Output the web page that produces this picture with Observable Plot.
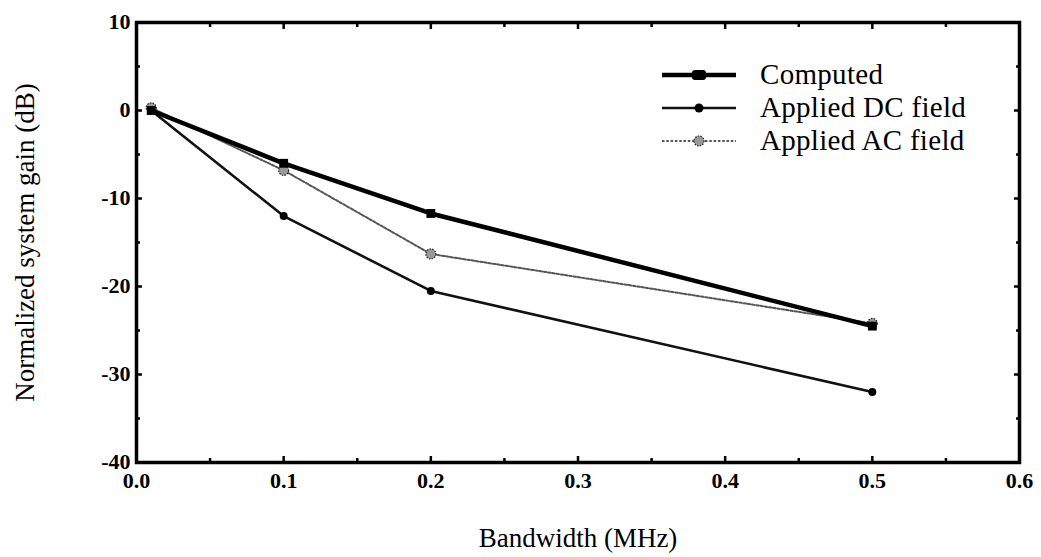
<!DOCTYPE html>
<html>
<head>
<meta charset="utf-8">
<script src="https://cdn.jsdelivr.net/npm/d3@7"></script>
<script src="https://cdn.jsdelivr.net/npm/@observablehq/plot@0.6"></script>
<style>
  html, body { margin: 0; padding: 0; background: #fff; }
  #wrap { position: relative; width: 1041px; height: 557px; font-family: "Liberation Serif", "DejaVu Serif", serif; }
  #legend { position: absolute; left: 662px; top: 58px; font-size: 29px; color: #000; letter-spacing: 0.3px; }
  #legend .row { display: flex; align-items: center; height: 33px; }
  #legend svg { margin-right: 24px; }
</style>
</head>
<body>
<div id="wrap"></div>
<script>
// Data
const bandwidth = [0.01, 0.1, 0.2, 0.5];
const computedGain = [0, -6.0, -11.7, -24.5];
const dcGain = [0, -12.0, -20.5, -32.0];
const acGain = [0.3, -6.8, -16.3, -24.2];
const seriesNames = ["Computed", "Applied DC field", "Applied AC field"];
const xMajorTicks = [0, 0.1, 0.2, 0.3, 0.4, 0.5, 0.6];
const xMinorTicks = [0.05, 0.15, 0.25, 0.35, 0.45, 0.55];
const yMajorTicks = [10, 0, -10, -20, -30, -40];
const yMinorTicks = [5, -5, -15, -25, -35];

const rows = (vals) => bandwidth.map((x, i) => ({x, y: vals[i]}));
const computed = rows(computedGain);
const dc = rows(dcGain);
const ac = rows(acGain);

const styles = {
  "Computed": {stroke: "#000", strokeWidth: 4.5, dash: null},
  "Applied DC field": {stroke: "#111", strokeWidth: 2.6, dash: null},
  "Applied AC field": {stroke: "#555", strokeWidth: 2, dash: "2.5,1.8"}
};

const font = "Liberation Serif";
const blank = () => "";

const chart = Plot.plot({
  width: 1041,
  height: 557,
  marginLeft: 136,
  marginRight: 22,
  marginTop: 22,
  marginBottom: 95,
  style: {fontFamily: font, fontSize: "22px", background: "#fff", color: "#000"},
  x: {domain: [0, 0.6]},
  y: {domain: [-40, 10]},
  marks: [
    // tick labels
    Plot.axisX({ticks: xMajorTicks, tickSize: 0, tickPadding: 10, tickFormat: d3.format(".1f"),
      fontWeight: "bold", fontSize: 22, label: null}),
    Plot.axisY({ticks: yMajorTicks, tickSize: 0, tickPadding: 6, tickFormat: d => String(d),
      fontWeight: "bold", fontSize: 22, label: null, dy: -1}),
    // axis titles
    Plot.axisX({ticks: [], tickSize: 0, fontSize: 27, label: "Bandwidth (MHz)", labelAnchor: "center", labelArrow: "none", labelOffset: 84}),
    Plot.axisY({ticks: [], tickSize: 0, fontSize: 27, label: "Normalized system gain (dB)", labelAnchor: "center", labelArrow: "none", labelOffset: 122}),
    // inward ticks on all four sides
    Plot.axisX({ticks: xMajorTicks, tickSize: -6, tickFormat: blank, label: null, strokeWidth: 2.5}),
    Plot.axisX({ticks: xMinorTicks, tickSize: -4, tickFormat: blank, label: null, strokeWidth: 2.5}),
    Plot.axisX({anchor: "top", ticks: xMajorTicks, tickSize: -6, tickFormat: blank, label: null, strokeWidth: 2.5}),
    Plot.axisX({anchor: "top", ticks: xMinorTicks, tickSize: -4, tickFormat: blank, label: null, strokeWidth: 2.5}),
    Plot.axisY({ticks: yMajorTicks, tickSize: -6, tickFormat: blank, label: null, strokeWidth: 2.5}),
    Plot.axisY({ticks: yMinorTicks, tickSize: -4, tickFormat: blank, label: null, strokeWidth: 2.5}),
    Plot.axisY({anchor: "right", ticks: yMajorTicks, tickSize: -6, tickFormat: blank, label: null, strokeWidth: 2.5}),
    Plot.axisY({anchor: "right", ticks: yMinorTicks, tickSize: -4, tickFormat: blank, label: null, strokeWidth: 2.5}),
    // series
    Plot.line(ac, {x: "x", y: "y", stroke: styles["Applied AC field"].stroke, strokeWidth: 2, strokeDasharray: styles["Applied AC field"].dash}),
    Plot.dot(ac, {x: "x", y: "y", r: 5, fill: "#999", stroke: "#222", strokeWidth: 1.2, strokeDasharray: "1.5,1.2"}),
    Plot.line(dc, {x: "x", y: "y", stroke: styles["Applied DC field"].stroke, strokeWidth: 2.6}),
    Plot.dot(dc, {x: "x", y: "y", r: 4, fill: "#000"}),
    Plot.line(computed, {x: "x", y: "y", stroke: "#000", strokeWidth: 4.5}),
    Plot.dot(computed, {x: "x", y: "y", symbol: "square", r: 5, fill: "#000"}),
    Plot.frame({stroke: "#000", strokeWidth: 3.5})
  ]
});

const wrap = document.getElementById("wrap");
wrap.appendChild(chart);

// Legend (HTML overlay inside plot area)
const legend = document.createElement("div");
legend.id = "legend";
const markerSvg = {
  "Computed": `<rect x="30" y="6" width="14" height="10" rx="3" fill="#000"/>`,
  "Applied DC field": `<circle cx="37" cy="11" r="4.5" fill="#000"/>`,
  "Applied AC field": `<circle cx="37" cy="11" r="5" fill="#999" stroke="#222" stroke-width="1.2" stroke-dasharray="1.5,1.2"/>`
};
for (const name of seriesNames) {
  const s = styles[name];
  const row = document.createElement("div");
  row.className = "row";
  row.innerHTML = `<svg width="74" height="22"><line x1="0" x2="74" y1="11" y2="11" stroke="${s.stroke}" stroke-width="${name === "Applied AC field" ? 1.8 : s.strokeWidth}" ${s.dash ? `stroke-dasharray="${s.dash}"` : ""}/>${markerSvg[name]}</svg><span>${name}</span>`;
  legend.appendChild(row);
}
wrap.appendChild(legend);
</script>
</body>
</html>
